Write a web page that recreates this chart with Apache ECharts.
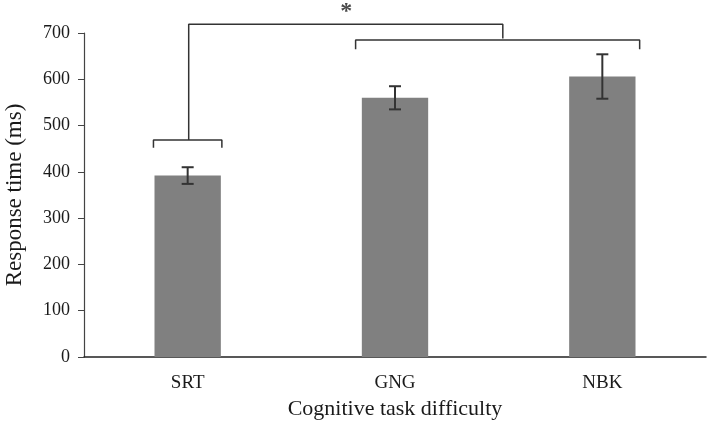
<!DOCTYPE html>
<html>
<head>
<meta charset="utf-8">
<script src="https://cdn.jsdelivr.net/npm/echarts@6/dist/echarts.min.js"></script>
<style>
  html, body { margin: 0; padding: 0; background: #fff; }
  #chart { width: 709px; height: 430px; }
</style>
</head>
<body>
<div id="chart"></div>
<script>
// categories and values
var tasks = ['SRT', 'GNG', 'NBK'];
var meanRT = [392, 560, 606];
var errRT = [18, 25, 48];
var yTicks = [0, 100, 200, 300, 400, 500, 600, 700];

// significance brackets, in (category position, ms) units
var bracketSRT = [[-0.165, 452], [-0.165, 469], [0.165, 469], [0.165, 452]];
var bracketHigh = [[0.81, 665], [0.81, 685], [2.18, 685], [2.18, 665]];
var bracketTop = [[0.005, 469], [0.005, 719], [1.52, 719], [1.52, 688]];
var starMark = [[0.765, 745]];

var chart = echarts.init(document.getElementById('chart'));

var errData = [];
for (var i = 0; i < tasks.length; i++) {
	errData.push([i, meanRT[i] - errRT[i], meanRT[i] + errRT[i]]);
}

function bracketSeries(pts) {
	return {
		type: 'line',
		xAxisIndex: 1,
		data: pts,
		symbol: 'none',
		clip: false,
		silent: true,
		lineStyle: { color: '#333', width: 1.5 },
		z: 5
	};
}

var option = {
	animation: false,
	grid: { left: 84, right: 3, top: 33, bottom: 73, containLabel: false, outerBoundsMode: 'none' },
	xAxis: [{
		type: 'category',
		data: tasks,
		name: 'Cognitive task difficulty',
		nameLocation: 'middle',
		nameGap: 40,
		nameTextStyle: { fontFamily: 'Liberation Serif', fontSize: 22, color: '#1a1a1a' },
		axisLine: { lineStyle: { color: '#222', width: 1.5 } },
		axisTick: { show: false },
		axisLabel: { fontFamily: 'Liberation Serif', fontSize: 19, color: '#1a1a1a', margin: 17 }
	}, {
		type: 'value',
		min: -0.5,
		max: 2.5,
		show: false
	}],
	yAxis: {
		type: 'value',
		min: 0,
		max: 700,
		interval: 100,
		name: 'Response time (ms)',
		nameLocation: 'middle',
		nameGap: 58,
		nameTextStyle: { fontFamily: 'Liberation Serif', fontSize: 23, color: '#1a1a1a' },
		axisLine: { show: true, onZero: false, lineStyle: { color: '#444', width: 1.2 } },
		axisTick: { show: true, length: 6, lineStyle: { color: '#444' } },
		splitLine: { show: false },
		axisLabel: {
			fontFamily: 'Liberation Serif', fontSize: 18, color: '#1a1a1a', margin: 14,
			formatter: function (v) { return yTicks.indexOf(v) >= 0 ? String(v) : ''; }
		}
	},
	series: [{
		type: 'bar',
		data: meanRT,
		barWidth: '32%',
		itemStyle: { color: '#808080' },
		z: 2
	}, {
		type: 'custom',
		data: errData,
		z: 4,
		renderItem: function (params, api) {
			var lo = api.coord([api.value(0), api.value(1)]);
			var hi = api.coord([api.value(0), api.value(2)]);
			var w = 6;
			var st = { stroke: '#333', lineWidth: 2 };
			return {
				type: 'group',
				children: [
					{ type: 'line', shape: { x1: hi[0], y1: hi[1], x2: lo[0], y2: lo[1] }, style: st },
					{ type: 'line', shape: { x1: hi[0] - w, y1: hi[1], x2: hi[0] + w, y2: hi[1] }, style: st },
					{ type: 'line', shape: { x1: lo[0] - w, y1: lo[1], x2: lo[0] + w, y2: lo[1] }, style: st }
				]
			};
		}
	},
	bracketSeries(bracketSRT),
	bracketSeries(bracketHigh),
	bracketSeries(bracketTop),
	{
		type: 'scatter',
		xAxisIndex: 1,
		data: starMark,
		symbolSize: 0,
		clip: false,
		silent: true,
		label: {
			show: true,
			position: 'inside',
			formatter: '*',
			fontFamily: 'Liberation Serif',
			fontWeight: 'bold',
			fontSize: 24,
			color: '#1a1a1a'
		}
	}]
};

chart.setOption(option);
</script>
</body>
</html>
